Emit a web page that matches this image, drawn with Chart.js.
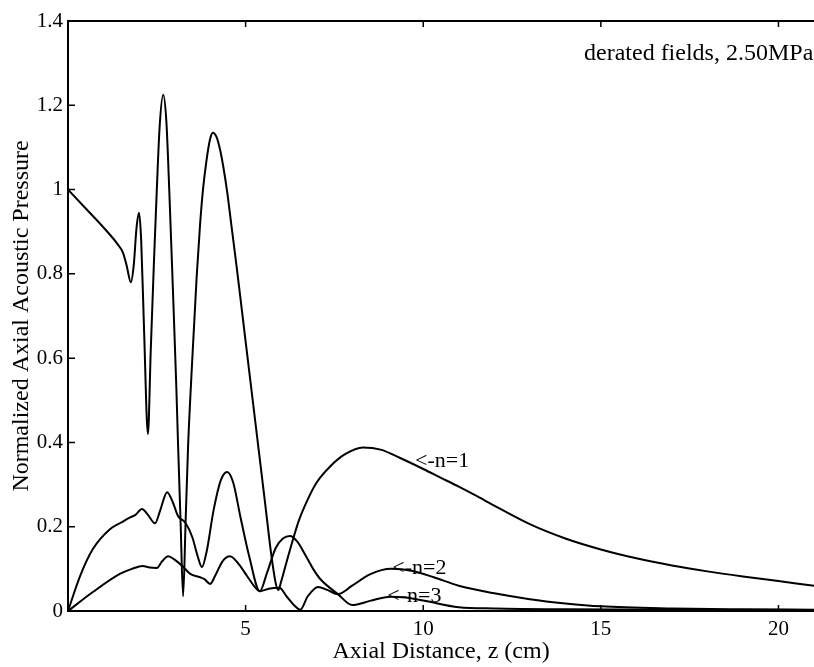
<!DOCTYPE html>
<html><head><meta charset="utf-8">
<script src="https://cdn.jsdelivr.net/npm/chart.js@4.4.1/dist/chart.umd.min.js"></script>
<style>html,body{margin:0;padding:0;background:#fff;overflow:hidden}</style>
</head><body>
<canvas id="c" width="814" height="667"></canvas>
<script>
// n=1 (fundamental)
const z1 = [0,0.5,1.0,1.4,1.55,1.65,1.77,1.85,1.93,2.0,2.06,2.14,2.25,2.33,2.42,2.5,2.58,2.68,2.77,2.85,2.95,3.05,3.1,3.17,3.24,3.31,3.38,3.5,3.62,3.72,3.8,3.9,4.0,4.08,4.18,4.28,4.38,4.48,4.6,4.75,4.9,5.1,5.35,5.55,5.72,5.85,5.92,6.0,6.1,6.3,6.5,6.75,7.0,7.38,7.8,8.3,8.8,9.35,10,10.5,11,11.5,12,13,14,15,16,17,18,19,20,21];
const p1 = [1.0,0.955,0.91,0.87,0.85,0.82,0.78,0.82,0.91,0.945,0.88,0.67,0.42,0.62,0.83,1.0,1.15,1.225,1.16,1.0,0.77,0.53,0.39,0.21,0.035,0.21,0.39,0.6,0.79,0.92,1.0,1.07,1.12,1.135,1.125,1.095,1.05,0.995,0.915,0.815,0.71,0.57,0.395,0.255,0.135,0.065,0.05,0.07,0.1,0.16,0.215,0.265,0.305,0.343,0.372,0.388,0.383,0.363,0.337,0.316,0.295,0.273,0.25,0.206,0.172,0.146,0.125,0.108,0.094,0.082,0.071,0.06];
// n=2
const z2 = [0,0.34,0.7,1.18,1.5,1.75,1.9,2.08,2.25,2.45,2.6,2.79,2.95,3.1,3.3,3.5,3.65,3.77,3.9,4.1,4.3,4.48,4.65,4.85,5.1,5.4,5.65,5.95,6.15,6.35,6.54,6.75,7.04,7.3,7.6,8.0,8.5,9.1,9.7,10.3,11.0,12.0,13.0,14.0,15.0,17.0,19.0,21.0];
const p2 = [0,0.083,0.147,0.194,0.21,0.222,0.228,0.242,0.228,0.208,0.24,0.282,0.258,0.225,0.21,0.175,0.13,0.104,0.14,0.24,0.31,0.33,0.305,0.225,0.13,0.047,0.053,0.055,0.035,0.015,0.003,0.035,0.057,0.05,0.04,0.06,0.087,0.1,0.095,0.08,0.06,0.042,0.028,0.018,0.011,0.006,0.004,0.003];
// n=3
const z3 = [0,0.7,1.46,1.8,2.1,2.3,2.5,2.65,2.82,3.0,3.24,3.44,3.72,3.85,4.0,4.15,4.35,4.56,4.8,5.04,5.25,5.4,5.6,5.85,6.05,6.25,6.45,6.7,6.9,7.1,7.6,8.0,8.5,9.07,9.5,10,11,12,14,21];
const p3 = [0,0.045,0.088,0.1,0.107,0.103,0.102,0.118,0.13,0.122,0.105,0.088,0.08,0.075,0.064,0.085,0.118,0.13,0.112,0.083,0.058,0.047,0.09,0.15,0.172,0.178,0.165,0.13,0.1,0.076,0.04,0.014,0.024,0.034,0.032,0.025,0.009,0.006,0.004,0.002];

const xTickValues = [5,10,15,20];
const yTickValues = [0,0.2,0.4,0.6,0.8,1,1.2,1.4];
const curveNotes = [
  {text:'<-n=1', z:9.77, p:0.355, align:'left'},
  {text:'<-n=2', z:9.13, p:0.102, align:'left'},
  {text:'<-n=3', z:8.99, p:0.036, align:'left'}
];
const cornerNote = {text:'derated fields, 2.50MPa', z:20.98, p:1.323, align:'right'};

const toPts = (zs, ps) => zs.map((z,i)=>({x:z, y:ps[i]}));
const serif = '"Liberation Serif", "Times New Roman", serif';

const framePlugin = {
  id:'frame',
  afterDraw(chart){
    const {ctx, chartArea:a, scales:{x, y}} = chart;
    ctx.save();
    ctx.strokeStyle = '#000';
    ctx.lineWidth = 2;
    ctx.beginPath();
    ctx.moveTo(a.left, a.top); ctx.lineTo(a.right, a.top);
    ctx.stroke();
    ctx.lineWidth = 1.5;
    ctx.beginPath();
    xTickValues.forEach(v=>{
      const px = x.getPixelForValue(v);
      ctx.moveTo(px, a.bottom); ctx.lineTo(px, a.bottom-6);
      ctx.moveTo(px, a.top); ctx.lineTo(px, a.top+6);
    });
    yTickValues.forEach(v=>{
      const py = y.getPixelForValue(v);
      ctx.moveTo(a.left, py); ctx.lineTo(a.left+7, py);
    });
    ctx.stroke();
    ctx.fillStyle = '#000';
    ctx.textBaseline = 'middle';
    ctx.font = '22px ' + serif;
    curveNotes.forEach(n=>{
      ctx.textAlign = n.align;
      ctx.fillText(n.text, x.getPixelForValue(n.z), y.getPixelForValue(n.p));
    });
    ctx.font = '24px ' + serif;
    ctx.textAlign = cornerNote.align;
    ctx.fillText(cornerNote.text, x.getPixelForValue(cornerNote.z), y.getPixelForValue(cornerNote.p));
    ctx.restore();
  }
};

const lineStyle = {borderColor:'#000', borderWidth:2, pointRadius:0, fill:false, tension:0, cubicInterpolationMode:'monotone'};

new Chart(document.getElementById('c'), {
  type:'line',
  data:{datasets:[
    Object.assign({label:'n=1', data:toPts(z1,p1)}, lineStyle),
    Object.assign({label:'n=2', data:toPts(z2,p2)}, lineStyle),
    Object.assign({label:'n=3', data:toPts(z3,p3)}, lineStyle)
  ]},
  options:{
    responsive:false, animation:false, devicePixelRatio:1,
    layout:{padding:{top:21, right:0, left:0, bottom:0}},
    plugins:{legend:{display:false}, tooltip:{enabled:false}},
    scales:{
      x:{type:'linear', min:0, max:21,
        afterFit(s){ s.height = 56; },
        grid:{display:false, drawTicks:false},
        border:{display:true, color:'#000', width:2},
        ticks:{stepSize:5, includeBounds:false, padding:6, color:'#000', font:{family:serif, size:21},
          callback:(v)=> xTickValues.includes(v) ? String(v) : ''},
        title:{display:true, text:'Axial Distance, z (cm)', color:'#000', font:{family:serif, size:24}, padding:{top:0,bottom:1}}
      },
      y:{type:'linear', min:0, max:1.4,
        afterFit(s){ s.width = 68; },
        grid:{display:false, drawTicks:false},
        border:{display:true, color:'#000', width:2},
        ticks:{stepSize:0.2, padding:5, color:'#000', font:{family:serif, size:21},
          callback:(v)=>{ const r = Math.round(v*10)/10; return (r===0||r===1) ? String(r) : r.toFixed(1); }},
        title:{display:true, text:'Normalized Axial Acoustic Pressure', color:'#000', font:{family:serif, size:24}, padding:{top:7,bottom:0}}
      }
    }
  },
  plugins:[framePlugin]
});
</script>
</body></html>
